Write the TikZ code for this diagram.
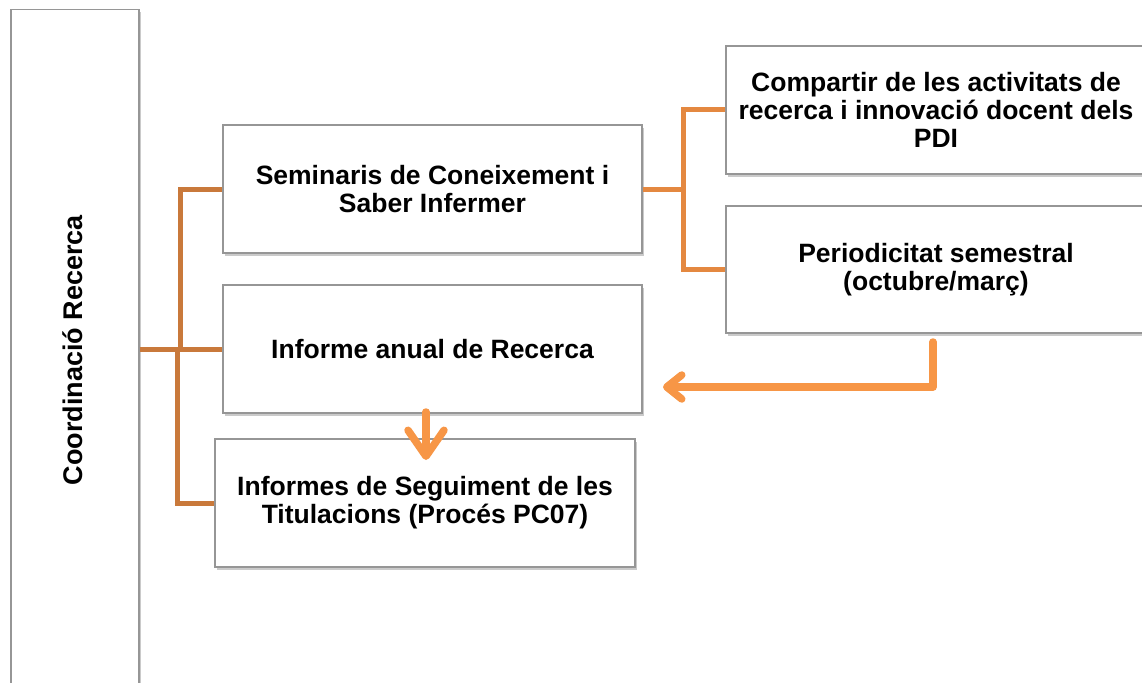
\documentclass[tikz,border=0pt]{standalone}
\usepackage{fontspec}
\setmainfont{Liberation Sans}
\usetikzlibrary{arrows.meta,shadows,calc}
\definecolor{treeA}{RGB}{201,121,59}
\definecolor{treeB}{RGB}{228,136,64}
\definecolor{arrC}{RGB}{247,150,70}
\definecolor{boxline}{RGB}{150,150,150}
\tikzset{
  box/.style={draw=boxline, line width=1.3pt, fill=white, align=center,
    inner sep=0pt, minimum width=419pt, minimum height=128pt,
    font=\bfseries\fontsize{26.5}{28}\selectfont,
    drop shadow={shadow xshift=1.5pt, shadow yshift=-3pt, opacity=.35, fill=black!60}},
  treeline/.style={draw=treeA, line width=5pt},
  treeline2/.style={draw=treeB, line width=5pt},
  arrline/.style={draw=arrC, line width=7.5pt, line cap=round, line join=round}
}
\begin{document}
\begin{tikzpicture}[x=1pt,y=-1pt]
\useasboundingbox (0,0) rectangle (1142,682);
\clip (0,0) rectangle (1142,682);
% left column
\node[box, minimum width=128pt, minimum height=680pt] (coord) at (75,349.5) {};
\node[rotate=90, font=\bfseries\fontsize{27}{28}\selectfont, inner sep=0pt] (coordtxt) at (73,350) {Coordinació Recerca};
% middle boxes
\node[box] (sem) at (432.5,189) {Seminaris de Coneixement i\\Saber Infermer};
\node[box] (inf) at (432.5,349) {Informe anual de Recerca};
\node[box, minimum width=420pt] (seg) at (425,503) {Informes de Seguiment de les\\Titulacions (Procés PC07)};
% right boxes
\node[box, minimum width=420pt] (comp) at (936,110) {Compartir de les activitats de\\recerca i innovació docent dels\\PDI};
\node[box, minimum width=420pt, minimum height=127pt] (per) at (936,269.5) {Periodicitat semestral\\(octubre/març)};
% left tree
\coordinate (j1) at (180,349);
\coordinate (j2) at (177,349);
\draw[treeline] (coord.east |- inf.west) -- (inf.west);
\draw[treeline] (j1) |- (sem.west);
\draw[treeline] (j2) |- (seg.west);
% right tree
\coordinate (j3) at (683,189);
\draw[treeline2] (sem.east) -- (j3);
\draw[treeline2] (comp.west) -| (j3) |- (per.west);
% arrows
\coordinate (a1s) at (933,342);
\coordinate (a1e) at (663,387);
\draw[arrline, -{Straight Barb[length=15pt,width=24pt,round]}] (a1s) |- (a1e);
\coordinate (a2s) at (426,412);
\coordinate (a2e) at (426,460);
\draw[arrline, -{Straight Barb[length=26pt,width=36pt,round]}] (a2s) -- (a2e);
\end{tikzpicture}
\end{document}
